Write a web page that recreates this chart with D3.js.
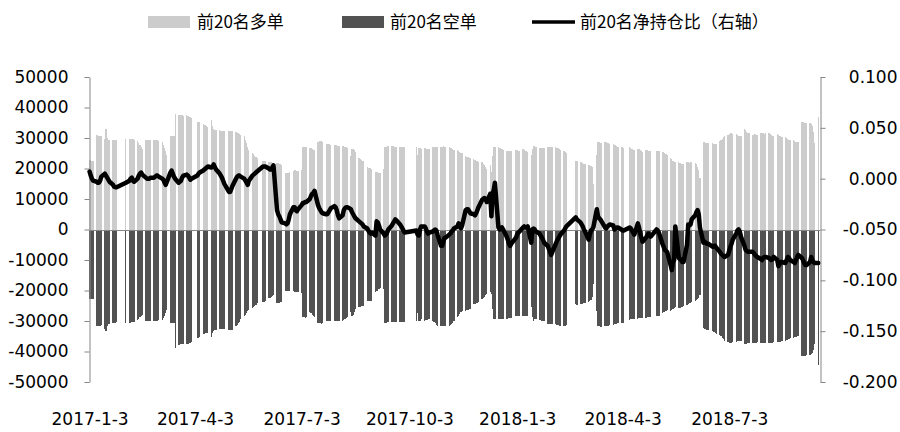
<!DOCTYPE html>
<html><head><meta charset="utf-8">
<script src="https://cdn.jsdelivr.net/npm/d3@7"></script>
<style>body{margin:0;background:#fff}svg{display:block}</style>
</head><body>
<svg id="chart" width="900" height="432"></svg>
<script>
// ---------- categories ----------
const startDate = "2017-01-03";
const lastDate = "2018-09-17";
const axisEndDate = "2018-09-18";
const holidays = ["2017-01-27","2017-01-30","2017-01-31","2017-02-01","2017-02-02","2017-04-03","2017-04-04",
  "2017-05-01","2017-05-29","2017-05-30","2017-10-02","2017-10-03","2017-10-04","2017-10-05","2017-10-06",
  "2018-01-01","2018-02-15","2018-02-16","2018-02-19","2018-02-20","2018-02-21","2018-04-05","2018-04-06",
  "2018-04-30","2018-05-01","2018-06-18"];
const xTickDates = ["2017-01-03","2017-04-03","2017-07-03","2017-10-03","2018-01-03","2018-04-03","2018-07-03"];
const xTickLabels = ["2017-1-3","2017-4-3","2017-7-3","2017-10-3","2018-1-3","2018-4-3","2018-7-3"];
const leftTicks = [50000,40000,30000,20000,10000,0,-10000,-20000,-30000,-40000,-50000];
const rightTicks = [0.1,0.05,0,-0.05,-0.1,-0.15,-0.2];
const seriesNames = ["前20名多单","前20名空单","前20名净持仓比（右轴）"];

// ---------- series values (one inner array per trading week) ----------
const longPos = [
[22700,22700,22500,22400],[31000,31000,30800,30600,30500],[29800,32800,30000,29400,29300],[29400,29300,29300,29200],[29800],
[29800,29800,29700,29600,29500],[29000,28400,27700,27000,26400],[29500,29500,29400,29400,29300],[29500,29500,29400,29300,28900],
[28600,27800,26800,25600,24500],[30500,30800,30800,30600,38000],[37500,37600,37500,37400,37300],[37400,37200,37000,36800,36600],
[35300,35300,35200],[34700,34400,34100,33800,33600],[36000,34000,33000,32700,32500],[32500,32400,32400,32300,32300],
[32400,32400,32300,32300],[32000,31800,31500,31200,31000],[30500,29400,28300,27200,26200],[25000,24600,24200,23800,23400],
[22500,22400,22400],[22200,22100,22000,21900,21800],[21800,21700,21500,21400,21300],[18600,18500,18500,18600,18800],
[19300,19400,19400,19300,19200],[19500,27000,27000,27100,27000],[26800,26600,26400,26200,26000],[28800,29000,29000,28900,28800],
[28000,28000,27900,27900,27800],[27700,27600,27600,27500,27500],[27500,27300,27100,26900,26700],[24000,26500,26300,26000,25500],
[23500,23000,22700,22500,22300],[20500,20300,20200,20100,20000],[18900,18800,18700,18600,18500],[20000,27000,27200,27300,27300],
[27300,27300,27200,27200,27100],[27100,27000,27000,26900,26900],[27000,24500,26800,26600,26500],[26600,26600,26500,26500,26400],
[27000,27000,27100,27000,27100],[27200,27200,27300,27200,27100],[27000,26800,26600,26300,26000],[26000,25800,25500,25200,25000],
[24000,23900,23800,23600,23500],[23000,22800,22500,22300,22000],[22000,21500,21000,20500,20000],[21000,18800,24000,27000,27200],
[27000,26800,26600,26400,26200],[25900,25800,25800,25800,25800],[26000,26000,25900,25900],[26300,26100,25900,25700,25500],
[24500,26500,27500,27500,27000],[26700,26700,26600,26700,26600],[27000,27000,27000,26900,26900],[27000,26800,26600,26300,26000],
[25800,25500,25000],[22400,22300],[22200,22000,21800,21600,21400],[21200,21000,20800,20600,15000],[24500,28700,28600,28500,28500],
[28700,28600,28400,28200,28000],[28000,27800,27600,27400,27200],[27200,27000,26800],[27000,26800,26500,26200,26000],
[26500,26300,26000,25800,25500],[26000,26000,25900,25900,25800],[25800,25700,25600],[25500,25300,25000,24800,24500],
[23500,23000,22500,22200,22000],[22000,21800,21600,21600,21500],[22000,22000,21800,22000,22200],[21800,21500,20500,19500,17000],
[28700,28600,28500,28400,28300],[28200,28100,28000,27900],[29000,29400,29800,30200,30500],[31000,31300,31500,31500,31300],
[31300,31000,30800,30500,30500],[33000,32500,32000,31800,31500],[31000,31000,31200,31000,31000],[31500,31600,31500,31400,31500],
[31500,31300,31000,30800,30500],[31200,31000,30800,30500,30300],[30300,30000,29700,29500,29200],[29200,29000,28800,28700,28600],
[35300,35200,35000,34900,34800],[34800,34500,34000,32000,28500],[37000]
].flat();

const shortPos = [
[-22800,-22900,-22800,-22700],[-31600,-31700,-31600,-31500,-31400],[-32600,-33200,-31500,-31000,-30900],[-30600,-30500,-30500,-30400],[-30500],
[-30500,-30500,-30400,-30400,-30300],[-29800,-29300,-28800,-28400,-28000],[-30000,-30000,-30000,-30100,-30000],[-30000,-30000,-30100,-30000,-29800],
[-29800,-29000,-28200,-27300,-26500],[-30800,-30800,-30800,-30700,-38800],[-37800,-37800,-37700,-37600,-37600],[-37600,-37500,-37300,-37100,-36800],
[-35500,-35500,-35400],[-34300,-34100,-34000,-33900,-33800],[-35200,-34000,-33200,-33000,-32900],[-32700,-32600,-32600,-32600,-32500],
[-32900,-32900,-32800,-32800],[-31800,-31400,-30800,-30200,-29500],[-28500,-28000,-27400,-26800,-26300],[-25800,-25400,-25000,-24600,-24100],
[-23800,-23700,-23600],[-22600,-22300,-22000,-21700,-21500],[-24200,-24100,-24000,-23900,-23700],[-20100,-20000,-20000,-20100,-20200],
[-20300,-20400,-20400,-20500,-20400],[-20800,-28700,-28800,-28900,-28800],[-27000,-27500,-28000,-28500,-28800],[-30700,-30800,-30800,-30900,-30800],
[-30000,-30000,-30000,-30100,-30000],[-30000,-30000,-30100,-30000,-30000],[-30000,-29700,-29400,-29100,-28800],[-27000,-28500,-28000,-27000,-26000],
[-25500,-25400,-25200,-25000,-25000],[-23600,-23500,-23400,-23400,-23300],[-20500,-20200,-20000,-19600,-19200],[-19500,-30500,-30500,-30400,-30300],
[-30300,-30300,-30300,-30200,-30200],[-30300,-30300,-30400,-30300,-30400],[-30000,-27500,-30000,-30000,-29500],[-30000,-29800,-29600,-29400,-29200],
[-30000,-30400,-30800,-31200,-31500],[-31600,-31600,-31700,-31600,-31500],[-31600,-31300,-30900,-30500,-30000],[-28800,-28300,-27800,-27200,-26600],
[-26600,-26500,-26400,-26200,-26000],[-24400,-24300,-24100,-24000,-23900],[-22800,-22400,-22000,-21500,-21000],[-20600,-21000,-26000,-29400,-29400],
[-29400,-29400,-29300,-29300,-29200],[-29300,-29200,-29100,-29000,-28900],[-28500,-28500,-28400,-28400],[-28500,-28500,-28400,-28400,-28300],
[-25500,-28800,-30000,-29500,-29500],[-29700,-29800,-29900,-30000,-30000],[-31000,-31000,-31000,-31100,-31000],[-31000,-31200,-31400,-31600,-31600],
[-31500,-31500,-31400],[-24500,-24600],[-24500,-24400,-24300,-24200,-24000],[-23800,-23500,-23000,-22200,-18000],[-26600,-31500,-31700,-31900,-32000],
[-31800,-31700,-31600,-31500,-31300],[-31200,-31100,-31000,-30900,-30800],[-30700,-30600,-30600],[-29700,-29500,-29400,-29300,-29200],
[-29200,-29100,-29000,-29000,-28900],[-28900,-28800,-28700,-28700,-28600],[-28400,-28300,-28200],[-27500,-27200,-26900,-26600,-26300],
[-26600,-26300,-26000,-25800,-25500],[-25800,-25600,-25500,-25400,-25200],[-24800,-24500,-24200,-24000,-23800],[-23400,-23000,-22800,-22500,-21500],
[-32300,-32500,-32700,-32900,-33000],[-33200,-33500,-33800,-34100],[-34500,-35000,-35500,-36000,-36500],[-37000,-37100,-37100,-37100,-37000],
[-36800,-36600,-36500,-36400,-36500],[-37500,-37500,-37400,-37300,-37200],[-37100,-37100,-37200,-37100,-37000],[-37100,-37100,-37200,-37100,-37100],
[-37200,-37200,-37100,-37100,-37000],[-37000,-37000,-36900,-36800,-36700],[-36500,-36300,-36100,-35900,-35700],[-35500,-35300,-35100,-35000,-34800],
[-41500,-41500,-41400,-41400,-41300],[-41000,-40900,-40500,-39500,-37500],[-44500]
].flat();

const netRatio = [
[0.007,0.003,0.000,-0.002],[-0.003,-0.004,-0.004,-0.002,0.002],[0.005,0.003,0.001,-0.001,-0.003],[-0.006,-0.008,-0.0085,-0.0085],[-0.004],
[-0.002,0.000,0.001,-0.002,-0.003],[0.000,0.003,0.005,0.006,0.004],[0.001,0.000,0.000,0.000,0.001],[0.001,0.002,0.003,0.003,0.002],
[0.000,-0.001,-0.004,-0.006,-0.003],[0.006,0.008,0.005,0.002,0.000],[-0.004,-0.003,-0.002,0.001,0.003],[0.004,0.003,0.001,-0.001,0.000],
[0.003,0.005,0.006],[0.008,0.009,0.010,0.011,0.012],[0.011,0.012,0.014,0.011,0.009],[0.005,0.003,0.001,-0.002,-0.005],
[-0.013,-0.013,-0.010,-0.007],[0.000,0.002,0.003,0.003,0.002],[0.000,-0.002,-0.004,-0.006,-0.002],[0.003,0.004,0.005,0.006,0.007],
[0.012,0.012,0.012],[0.010,0.009,0.009,0.011,0.013],[-0.031,-0.035,-0.037,-0.040,-0.043],[-0.044,-0.045,-0.044,-0.040,-0.035],
[-0.028,-0.028,-0.031,-0.032,-0.030],[-0.026,-0.024,-0.024,-0.023,-0.023],[-0.020,-0.017,-0.015,-0.014,-0.012],[-0.026,-0.029,-0.031,-0.033,-0.034],
[-0.035,-0.035,-0.033,-0.031,-0.029],[-0.027,-0.028,-0.031,-0.036,-0.039],[-0.036,-0.031,-0.029,-0.028,-0.028],[-0.030,-0.033,-0.035,-0.037,-0.039],
[-0.042,-0.043,-0.044,-0.045,-0.047],[-0.049,-0.051,-0.053,-0.054,-0.053],[-0.056,-0.042,-0.043,-0.046,-0.050],[-0.054,-0.056,-0.055,-0.053,-0.050],
[-0.046,-0.044,-0.042,-0.040,-0.041],[-0.045,-0.047,-0.049,-0.051,-0.053],[-0.051,-0.055,-0.056,-0.050,-0.047],[-0.047,-0.049,-0.052,-0.054,-0.053],
[-0.052,-0.051,-0.050,-0.051,-0.055],[-0.066,-0.066,-0.062,-0.058,-0.058],[-0.055,-0.054,-0.052,-0.051,-0.049],[-0.047,-0.044,-0.046,-0.049,-0.046],
[-0.031,-0.030,-0.030,-0.032,-0.034],[-0.035,-0.036,-0.034,-0.031,-0.028],[-0.021,-0.020,-0.019,-0.020,-0.023],[-0.015,-0.037,-0.015,-0.011,-0.004],
[-0.048,-0.050,-0.049,-0.048,-0.050],[-0.057,-0.060,-0.064,-0.066,-0.064],[-0.058,-0.055,-0.053,-0.052],[-0.048,-0.047,-0.048,-0.048,-0.047],
[-0.063,-0.050,-0.049,-0.050,-0.052],[-0.054,-0.056,-0.058,-0.060,-0.063],[-0.066,-0.069,-0.072,-0.075,-0.072],[-0.064,-0.061,-0.059,-0.057,-0.055],
[-0.051,-0.049,-0.047],[-0.038,-0.040],[-0.043,-0.045,-0.047,-0.050,-0.052],[-0.060,-0.055,-0.051,-0.050,-0.048],[-0.030,-0.037,-0.039,-0.040,-0.042],
[-0.048,-0.049,-0.047,-0.046,-0.045],[-0.046,-0.050,-0.049,-0.048,-0.048],[-0.050,-0.051,-0.051],[-0.048,-0.049,-0.051,-0.053,-0.055],
[-0.044,-0.048,-0.054,-0.058,-0.062],[-0.058,-0.056,-0.054,-0.055,-0.057],[-0.050,-0.051,-0.053],[-0.064,-0.067,-0.070,-0.071,-0.072],
[-0.085,-0.090,-0.082,-0.080,-0.047],[-0.078,-0.079,-0.080,-0.082,-0.082],[-0.065,-0.045,-0.046,-0.045,-0.040],[-0.036,-0.033,-0.031,-0.035,-0.048],
[-0.063,-0.062,-0.063,-0.064,-0.064],[-0.067,-0.066,-0.066,-0.068],[-0.072,-0.074,-0.075,-0.076,-0.077],[-0.075,-0.071,-0.067,-0.064,-0.060],
[-0.054,-0.051,-0.050,-0.052,-0.057],[-0.066,-0.070,-0.071,-0.072,-0.072],[-0.072,-0.073,-0.075,-0.076,-0.077],[-0.079,-0.080,-0.078,-0.077,-0.077],
[-0.078,-0.079,-0.080,-0.079,-0.077],[-0.080,-0.086,-0.084,-0.082,-0.082],[-0.083,-0.080,-0.077,-0.078,-0.080],[-0.082,-0.083,-0.080,-0.077,-0.075],
[-0.078,-0.080,-0.083,-0.085,-0.085],[-0.082,-0.077,-0.080,-0.082,-0.083],[-0.083]
].flat();

// ---------- build trading-day table ----------
const parse = d3.utcParse("%Y-%m-%d");
const fmt = d3.utcFormat("%Y-%m-%d");
const holidaySet = new Set(holidays);
const tradingDays = d3.utcDay.range(parse(startDate), d3.utcDay.offset(parse(lastDate), 1))
  .filter(d => d.getUTCDay() !== 0 && d.getUTCDay() !== 6 && !holidaySet.has(fmt(d)));
const n = Math.min(tradingDays.length, longPos.length, shortPos.length, netRatio.length);
const rows = d3.range(n).map(i => ({date: tradingDays[i], long: longPos[i], short: shortPos[i], ratio: netRatio[i]}));

// ---------- layout ----------
const svg = d3.select("#chart");
const plotLeft = 89, plotRight = 820, plotTop = 77, plotBottom = 382;
const x = d3.scaleUtc()
  .domain([d3.utcHour.offset(parse(startDate), -12), d3.utcHour.offset(parse(axisEndDate), 12)])
  .range([plotLeft, plotRight]);
const yL = d3.scaleLinear().domain([-50000, 50000]).range([plotBottom, plotTop]);
const yR = d3.scaleLinear().domain([-0.2, 0.1]).range([plotBottom, plotTop]);

const numFont = "'DejaVu Sans', Verdana, sans-serif";
const cjkFont = "'Noto Sans CJK SC', 'Noto Sans', sans-serif";
const lightCol = "#cccccc", darkCol = "#525252", axisCol = "#868686";

// bars snapped to whole pixels so weekend/holiday gaps stay visible as white stripes
const edgeL = d => Math.round(x(d3.utcHour.offset(d.date, -12)));
const edgeR = d => Math.max(edgeL(d) + 1, Math.round(x(d3.utcHour.offset(d.date, 12))));
const y0 = Math.round(yL(0));

svg.append("g").attr("shape-rendering", "crispEdges").selectAll("rect").data(rows).join("rect")
  .attr("x", edgeL).attr("width", d => edgeR(d) - edgeL(d))
  .attr("y", d => Math.round(yL(d.long))).attr("height", d => y0 - Math.round(yL(d.long)))
  .attr("fill", lightCol);
svg.append("g").attr("shape-rendering", "crispEdges").selectAll("rect").data(rows).join("rect")
  .attr("x", edgeL).attr("width", d => edgeR(d) - edgeL(d))
  .attr("y", y0).attr("height", d => Math.round(yL(d.short)) - y0)
  .attr("fill", darkCol);

// zero / category axis line
svg.append("line").attr("x1", plotLeft).attr("x2", plotRight)
  .attr("y1", y0 + 0.5).attr("y2", y0 + 0.5)
  .attr("stroke", axisCol).attr("stroke-width", 1);

// left axis
const gL = svg.append("g").attr("transform", `translate(${plotLeft + 0.5},0)`)
  .call(d3.axisLeft(yL).tickValues(leftTicks).tickFormat(d => String(d)).tickSize(5).tickSizeOuter(0).tickPadding(16));
// right axis
const gR = svg.append("g").attr("transform", `translate(${plotRight + 0.5},0)`)
  .call(d3.axisRight(yR).tickValues(rightTicks).tickFormat(d => d.toFixed(3)).tickSize(5).tickSizeOuter(0).tickPadding(0));
gR.selectAll("text").attr("text-anchor", "end").attr("x", 897 - plotRight);
[gL, gR].forEach(g => {
  g.select(".domain").attr("stroke", axisCol);
  g.selectAll(".tick line").attr("stroke", axisCol);
  g.selectAll("text").attr("font-family", numFont).attr("font-size", 17).attr("fill", "#000");
});

// x axis labels
const gX = svg.append("g").attr("transform", "translate(0,413)")
  .call(d3.axisBottom(x).tickValues(xTickDates.map(parse)).tickFormat((d, i) => xTickLabels[i]).tickSize(0).tickPadding(0));
gX.select(".domain").remove();
gX.selectAll("text").attr("font-family", numFont).attr("font-size", 17).attr("fill", "#000");

// net ratio line
const line = d3.line().x(d => x(d.date)).y(d => yR(d.ratio));
svg.append("path").datum(rows).attr("d", line)
  .attr("fill", "none").attr("stroke", "#000").attr("stroke-width", 4.5)
  .attr("stroke-linejoin", "round").attr("stroke-linecap", "round");

// legend
const legend = svg.append("g").attr("font-family", cjkFont).attr("font-size", 17);
const legendItems = [
  {name: seriesNames[0], type: "rect", color: lightCol, sx: 148, tx: 197},
  {name: seriesNames[1], type: "rect", color: darkCol, sx: 342, tx: 390},
  {name: seriesNames[2], type: "line", color: "#000", sx: 532, tx: 580}
];
legendItems.forEach(it => {
  if (it.type === "rect") {
    legend.append("rect").attr("x", it.sx).attr("y", 16).attr("width", 42).attr("height", 12).attr("fill", it.color);
  } else {
    legend.append("line").attr("x1", it.sx).attr("x2", it.sx + 43).attr("y1", 22).attr("y2", 22)
      .attr("stroke", it.color).attr("stroke-width", 3.5);
  }
  legend.append("text").attr("x", it.tx).attr("y", 28).text(it.name).attr("fill", "#000");
});
</script>
</body></html>
